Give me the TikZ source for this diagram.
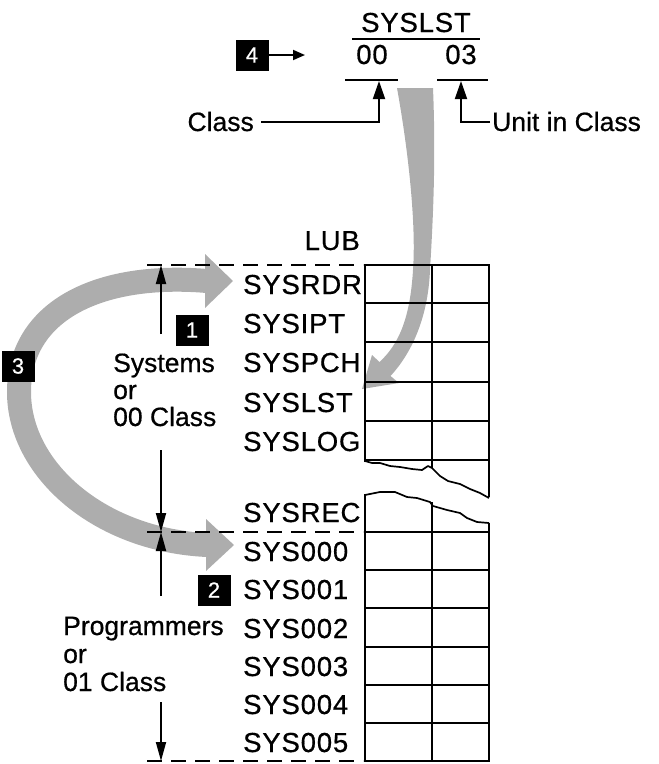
\documentclass[tikz,border=0pt]{standalone}
\usepackage{fontspec}
\setmainfont{Liberation Sans}[FakeBold=0.6]
\newfontfamily\capsfont{Liberation Sans}[LetterSpace=3,FakeBold=0.6]
\usetikzlibrary{arrows.meta}
\definecolor{stipple}{gray}{0.68}
\begin{document}
\begin{tikzpicture}[x=1pt,y=-1pt,
  lbl/.style={font=\fontsize{26.5}{28}\selectfont, inner sep=0pt, anchor=base west},
  clbl/.style={font=\capsfont\fontsize{27.5}{29}\selectfont, inner sep=0pt, anchor=base west},
  numbox/.style={fill=black, text=white, minimum width=33pt, minimum height=31pt, inner sep=0pt, font=\fontsize{22}{24}\selectfont},
  grid/.style={line width=2pt},
  torn/.style={line width=1.7pt, line join=round},
  dim/.style={line width=1.8pt, -{Triangle[length=19pt,width=10pt]}},
  ptr/.style={line width=1.8pt, -{Triangle[length=18pt,width=12pt]}},
  dashline/.style={line width=2pt, dash pattern=on 15pt off 9pt},
  greyband/.style={fill=stipple, draw=none},
]
\useasboundingbox (0,0) rectangle (659,764);

% ---------- grey arrows (behind) ----------
\draw[line width=24pt, draw=stipple] (207,281) .. controls (100,272) and (19,310) .. (19,392)
      .. controls (19,470) and (100,540) .. (207,545);
\fill[greyband] (205,254) -- (233,281) -- (205,308) -- cycle;
\fill[greyband] (206,519) -- (234,545) -- (206,571) -- cycle;

\fill[greyband] (397,88) .. controls (410,160) and (416,230) .. (413,270)
      .. controls (410,320) and (398,345) .. (379.5,362)
      -- (372,355) -- (362,389) -- (399,383) -- (390.5,376)
      .. controls (410,355) and (428,320) .. (430,270)
      .. controls (433,220) and (436,160) .. (433,88) -- cycle;

% ---------- top: SYSLST 00 03 ----------
\node[clbl, anchor=base] (syslst) at (416,32) {SYSLST};
\draw[line width=2pt] (352,39) -- (480,39);
\node[clbl, anchor=base] (c00) at (372,64) {00};
\node[clbl, anchor=base] (c03) at (461,64) {03};
\draw[line width=2pt] (345,80) -- (398,80);
\draw[line width=2pt] (437,80) -- (488,80);
\coordinate (clstip) at (379,81);
\coordinate (unittip) at (461,81);
\node[numbox] (b4) at (252,55) {4};
\coordinate (b4tip) at (305,55);
\draw[line width=1.8pt, -{Triangle[length=12pt,width=10pt]}] (b4.east) -- (b4tip);
\node[lbl, anchor=base east] (cls) at (254,131) {Class};
\node[lbl] (unit) at (492,131) {Unit in Class};
\draw[ptr] (cls.east |- 0,122) ++(7,0) -- (379,122) -- (clstip);
\draw[ptr] (unit.west |- 0,122) ++(-2,0) -- (461,122) -- (unittip);

% ---------- LUB table ----------
\node[clbl, anchor=base east] (lub) at (360,250) {LUB};
\draw[dashline] (147,265) -- (363,265);
\draw[dashline] (147,532) -- (363,532);
\draw[dashline] (147,761) -- (363,761);

% upper part
\draw[grid] (365,462) -- (365,265) -- (489,265) -- (489,497);
\foreach \yy in {303,342,382,421,460} \draw[grid] (365,\yy) -- (489,\yy);
\draw[grid] (432,265) -- (432,468);
\draw[torn] (365,461) -- (372,463) -- (380,463) -- (390,466) -- (400,467) -- (412,469)
  -- (422,470) -- (428,466) -- (432,468) -- (440,476) -- (448,481) -- (460,484)
  -- (470,489) -- (480,493) -- (489,498);
% lower part
\draw[grid] (365,494) -- (365,761) -- (489,761) -- (489,523);
\foreach \yy in {532,570,608,647,685,723} \draw[grid] (365,\yy) -- (489,\yy);
\draw[grid] (432,502) -- (432,761);
\draw[torn] (365,495) -- (380,492) -- (395,492) -- (407,497) -- (417,498) -- (430,502)
  -- (433,506) -- (447,510) -- (460,513) -- (467,518) -- (477,522) -- (489,523);

% row labels
\node[clbl] (rdr) at (243,294) {SYSRDR};
\node[clbl] (ipt) at (243,333) {SYSIPT};
\node[clbl] (pch) at (243,372) {SYSPCH};
\node[clbl] (lst) at (243,412) {SYSLST};
\node[clbl] (log) at (243,451) {SYSLOG};
\node[clbl] (rec) at (243,522) {SYSREC};
\node[clbl] (s0) at (243,561) {SYS000};
\node[clbl] (s1) at (243,599) {SYS001};
\node[clbl] (s2) at (243,638) {SYS002};
\node[clbl] (s3) at (243,676) {SYS003};
\node[clbl] (s4) at (243,714) {SYS004};
\node[clbl] (s5) at (243,752) {SYS005};

% ---------- left labels and dimension arrows ----------
\node[lbl] (sys1) at (113,372) {Systems};
\node[lbl] (sys2) at (113,399) {or};
\node[lbl] (sys3) at (113,426) {00 Class};
\node[lbl] (pr1) at (63,635) {Programmers};
\node[lbl] (pr2) at (63,663) {or};
\node[lbl] (pr3) at (63,691) {01 Class};

\coordinate (t1) at (161,265);
\coordinate (t2) at (161,532);
\coordinate (t3) at (161,761);
\draw[dim] (161,334) -- (t1);
\draw[dim] (161,450) -- (t2);
\draw[dim] (161,596) -- (t2);
\draw[dim] (161,702) -- (t3);

% ---------- numbered boxes ----------
\node[numbox] (b1) at (192,330) {1};
\node[numbox] (b2) at (214,590) {2};
\node[numbox] (b3) at (18,366) {3};
\end{tikzpicture}
\end{document}
